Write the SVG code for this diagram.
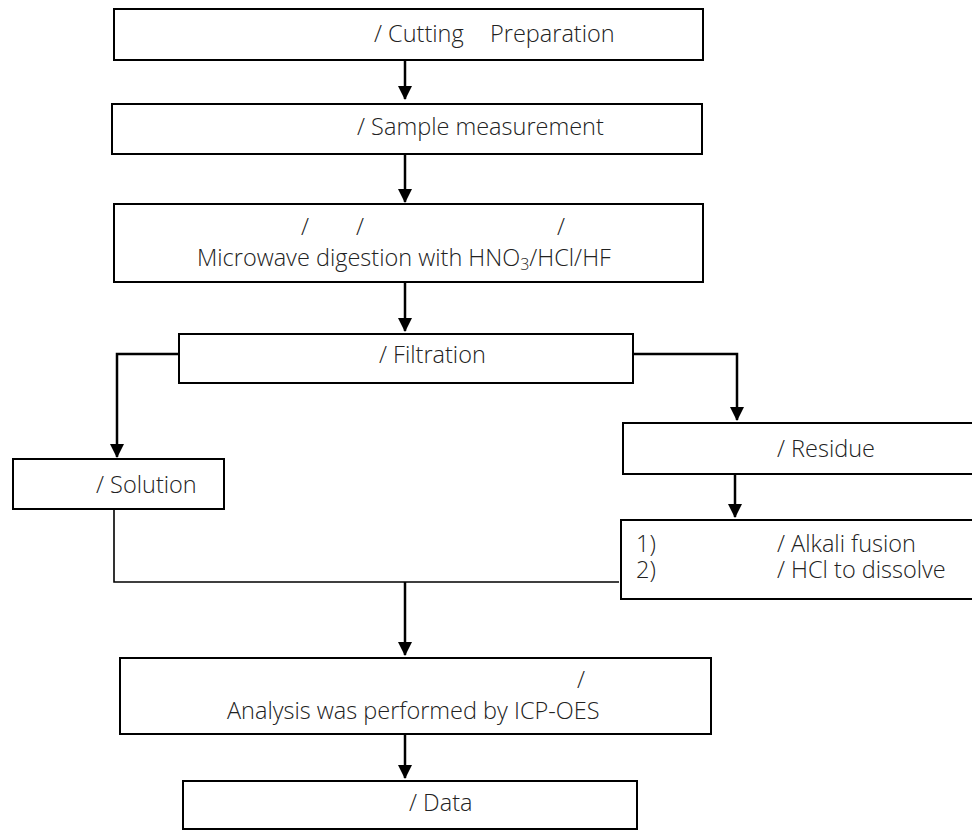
<svg xmlns="http://www.w3.org/2000/svg" width="972" height="830" viewBox="0 0 972 830">
<style>
.box{fill:#fff;stroke:#000;stroke-width:2}
.t{font-family:"Open Sans","Liberation Sans",sans-serif;font-size:23.5px;font-weight:300;fill:#222}
.c{fill:none;stroke:#000;stroke-width:2.5}
.thin{fill:none;stroke:#000;stroke-width:1.6}
</style>
<defs>
<marker id="ah" markerUnits="userSpaceOnUse" markerWidth="14" markerHeight="14" viewBox="0 0 14 14" refX="13" refY="7" orient="auto">
<path d="M0,0 L14,7 L0,14 Z" fill="#000"/>
</marker>
</defs>
<rect width="972" height="830" fill="#fff"/>
<g id="connectors">
<path class="c" d="M405,60 V99" marker-end="url(#ah)"/>
<path class="c" d="M405,154 V202" marker-end="url(#ah)"/>
<path class="c" d="M405,282 V331" marker-end="url(#ah)"/>
<path class="c" d="M179,354 H117 V457" marker-end="url(#ah)"/>
<path class="c" d="M633,354 H737 V420" marker-end="url(#ah)"/>
<path class="c" d="M735,474 V517" marker-end="url(#ah)"/>
<path class="thin" d="M114,509 V582 H619"/>
<path class="c" d="M405,582 V655" marker-end="url(#ah)"/>
<path class="c" d="M405,734 V778" marker-end="url(#ah)"/>
</g>
<g id="cutting">
<rect class="box" x="114" y="9" width="589" height="51"/>
<text class="t" y="42"><tspan x="374">/ Cutting</tspan><tspan x="490">Preparation</tspan></text>
</g>
<g id="sample">
<rect class="box" x="112" y="104" width="590" height="50"/>
<text class="t" x="357" y="135">/ Sample measurement</text>
</g>
<g id="digestion">
<rect class="box" x="114" y="204" width="589" height="78"/>
<text class="t" y="235"><tspan x="301">/</tspan><tspan x="356">/</tspan><tspan x="557">/</tspan></text>
<text class="t" x="197" y="266">Microwave digestion with HNO<tspan font-size="16" dy="4">3</tspan><tspan dy="-4">/HCl/HF</tspan></text>
</g>
<g id="filtration">
<rect class="box" x="179" y="334" width="454" height="49"/>
<text class="t" x="379" y="363">/ Filtration</text>
</g>
<g id="solution">
<rect class="box" x="13" y="459" width="211" height="50"/>
<text class="t" x="96" y="493">/ Solution</text>
</g>
<g id="residue">
<rect class="box" x="623" y="423" width="360" height="51"/>
<text class="t" x="777" y="457">/ Residue</text>
</g>
<g id="fusion">
<rect class="box" x="621" y="520" width="360" height="79"/>
<text class="t" x="636" y="552">1)</text>
<text class="t" x="777" y="552">/ Alkali fusion</text>
<text class="t" x="636" y="578">2)</text>
<text class="t" x="777" y="578">/ HCl to dissolve</text>
</g>
<g id="analysis">
<rect class="box" x="120" y="658" width="591" height="76"/>
<text class="t" x="577" y="688">/</text>
<text class="t" x="227" y="719">Analysis was performed by ICP-OES</text>
</g>
<g id="data">
<rect class="box" x="183" y="781" width="454" height="48"/>
<text class="t" x="409" y="811">/ Data</text>
</g>
</svg>
